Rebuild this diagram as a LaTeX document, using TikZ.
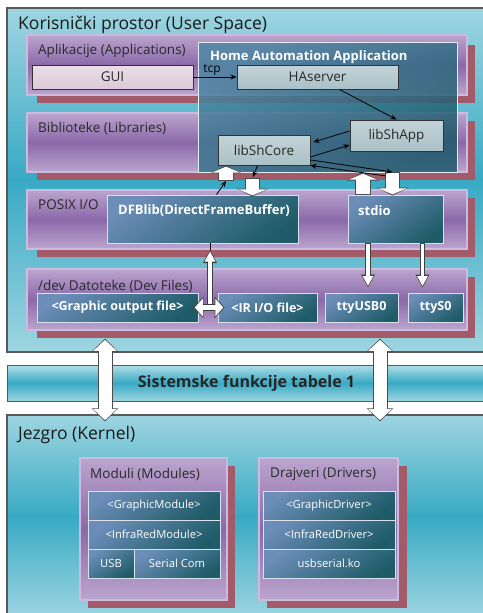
\documentclass[tikz,border=0pt]{standalone}
\usepackage{fontspec}
\setmainfont{Open Sans}
\usepackage{tikz}
\usetikzlibrary{positioning,arrows.meta,calc}
\definecolor{tealLight}{HTML}{9ED5E1}
\definecolor{tealDark}{HTML}{38AAC4}
\definecolor{layerLight}{HTML}{BBA5CE}
\definecolor{layerDark}{HTML}{8B69A9}
\definecolor{layerEdge}{HTML}{CDBADF}
\definecolor{shadowRed}{HTML}{A35B6A}
\definecolor{haTop}{HTML}{4E87A4}
\definecolor{haBottom}{HTML}{1D5A6B}
\definecolor{boxBlue}{HTML}{6B8DB8}
\definecolor{boxTeal}{HTML}{1F5C68}
\definecolor{greyBox}{HTML}{A9C1C7}
\definecolor{guiPink}{HTML}{DCC9D9}
\definecolor{labelGrey}{HTML}{2A2A2A}

\tikzset{
  bigpanel/.style={draw=black!65, line width=1.3pt, top color=tealLight, bottom color=tealLight, middle color=tealDark, inner sep=0pt},
  layerbox/.style={draw=layerEdge, line width=1.2pt, top color=layerLight, bottom color=layerLight, middle color=layerDark},
  titletext/.style={font=\fontsize{17.5}{20}\selectfont, text=black!90, anchor=west, inner sep=0pt},
  layerlabel/.style={font=\fontsize{13.5}{16}\selectfont, text=labelGrey, anchor=west, inner sep=0pt},
  haframe/.style={draw=white!85!haTop, line width=1pt, top color=haTop, bottom color=haBottom, shading angle=30, fill opacity=0.85, inner sep=0pt},
  hatitle/.style={font=\bfseries\fontsize{13}{16}\selectfont, text=white, anchor=west, inner sep=0pt},
  greybox/.style={draw=black!80, line width=0.9pt, top color=greyBox!70!white, bottom color=greyBox, font=\fontsize{13.5}{16}\selectfont, text=labelGrey, inner sep=0pt},
  guibox/.style={greybox, top color=guiPink!60!white, bottom color=guiPink},
  bluebox/.style={draw=white!75!boxBlue, line width=0.9pt, top color=boxBlue, bottom color=boxTeal, shading angle=35, text=white, inner sep=0pt},
  filebox/.style={bluebox, minimum height=29pt, font=\bfseries\fontsize{12.5}{15}\selectfont},
  rowbox/.style={bluebox, minimum height=29pt, font=\fontsize{11.2}{13}\selectfont},
  boxtext/.style={font=\bfseries\fontsize{13}{16}\selectfont, text=white, anchor=west, inner sep=0pt},
  sysbar/.style={draw=black!65, line width=1pt, top color=tealLight!80!white, bottom color=tealLight, middle color=tealDark, font=\bfseries\fontsize{16}{18}\selectfont, text=black!85, inner sep=0pt},
  thinarrow/.style={line width=0.8pt, -{Stealth[length=6pt,width=5pt]}},
  blockarrow/.style={line width=15.5pt, draw=black!70, -{Triangle[width=32pt,length=8pt]},
    postaction={draw=white, line width=13.5pt, -{Triangle[width=28pt,length=6pt]}, shorten >=1.2pt, shorten <=0.8pt}},
  thinhollow/.style={line width=5.5pt, draw=black!75, -{Triangle[width=13pt,length=13pt]},
    postaction={draw=white, line width=3.8pt, -{Triangle[width=10pt,length=10pt]}, shorten >=1.5pt, shorten <=0.8pt}},
  thindouble/.style={line width=7.5pt, draw=black!75, {Triangle[width=21pt,length=10pt]}-{Triangle[width=21pt,length=10pt]},
    postaction={draw=white, line width=5.8pt, {Triangle[width=17.5pt,length=8pt]}-{Triangle[width=17.5pt,length=8pt]}, shorten >=1.3pt, shorten <=1.3pt}},
  bighollow/.style={line width=15pt, draw=black!70, {Triangle[width=26pt,length=13pt]}-{Triangle[width=26pt,length=13pt]},
    postaction={draw=white, line width=13pt, {Triangle[width=23pt,length=11pt]}-{Triangle[width=23pt,length=11pt]}, shorten >=1.2pt, shorten <=1.2pt}},
}

\begin{document}
\begin{tikzpicture}[x=1pt, y=-1pt]
  \useasboundingbox (0,0) rectangle (482,613);
  \fill[white] (0,0) rectangle (482,613);

  % User space
  \node[bigpanel, minimum width=479pt, minimum height=344pt] (userspace) at (246.5,180) {};
  \node[titletext] (usertitle) at (18,25) {Korisnički prostor (User Space)};

  % Layer: Aplikacije
  \fill[shadowRed] (37,45) rectangle (475,103);
  \shade[layerbox] (27,35) rectangle (467,95);
  \node[layerlabel] (applbl) at (38,51) {Aplikacije (Applications)};

  % Layer: Biblioteke
  \fill[shadowRed] (37,121) rectangle (475,180);
  \shade[layerbox] (27,113) rectangle (467,172);
  \node[layerlabel] (liblbl) at (38,128) {Biblioteke (Libraries)};

  % Layer: POSIX
  \fill[shadowRed] (37,198) rectangle (475,257);
  \shade[layerbox] (27,190) rectangle (467,249);
  \node[layerlabel] (posixlbl) at (38,205) {POSIX I/O};

  % Layer: dev
  \fill[shadowRed] (37,277) rectangle (475,338);
  \shade[layerbox] (27,269) rectangle (467,330);
  \node[layerlabel] (devlbl) at (38,286) {/dev Datoteke (Dev Files)};

  % Home automation
  \node[haframe, minimum width=259pt, minimum height=130pt] (haapp) at (327.5,107) {};
  \node[hatitle] (hatitle) at (210,57) {Home Automation Application};
  \node[guibox, minimum width=161pt, minimum height=24pt] (gui) at (112.5,77) {GUI};
  \node[greybox, minimum width=161pt, minimum height=24pt] (haserver) at (317.5,77) {HAserver};
  \node[greybox, minimum width=93pt, minimum height=31pt] (libshapp) at (396.5,135.5) {libShApp};
  \node[greybox, minimum width=92pt, minimum height=30pt] (libshcore) at (264,150) {libShCore};

  % POSIX boxes
  \node[bluebox, minimum width=191pt, minimum height=48pt] (dfb) at (202.5,219) {};
  \node[boxtext] (dfbtext) at (118,211) {DFBlib(DirectFrameBuffer)};
  \node[bluebox, minimum width=95pt, minimum height=48pt] (stdio) at (395.5,219) {};
  \node[boxtext] (stdiotext) at (358,211) {stdio};

  % Dev files
  \node[filebox, minimum width=161pt] (gfxfile) at (117.5,307.5) {<Graphic output file>};
  \node[filebox, minimum width=99pt] (irfile) at (267.5,307.5) {<IR I/O file>};
  \node[filebox, minimum width=73pt] (ttyusb) at (361.5,307.5) {ttyUSB0};
  \node[filebox, minimum width=55pt] (ttys) at (435.5,307.5) {ttyS0};

  % Arrow points
  \coordinate (upLfoot) at (226,181);
  \coordinate (dnLhead) at (252.5,178);
  \coordinate (upRx) at (363,0);
  \coordinate (dnRtop) at (392.5,172);
  \coordinate (stdioin) at (386,176);
  \coordinate (usbx) at (368,0);
  \coordinate (s0x) at (422.5,0);
  \coordinate (tjoin) at (210,307);
  \coordinate (tjtip) at (210,250);
  \coordinate (bigLx) at (105,0);
  \coordinate (bigRx) at (380,0);

  % Arrows in user space
  \draw[thinarrow] (gui) -- node[pos=0.43, above, inner sep=1pt, font=\fontsize{12}{14}\selectfont] (tcplbl) {tcp} (haserver);
  \draw[thinarrow] ([xshift=22pt]haserver.south) -- (libshapp.north);
  \draw[thinarrow, shorten >=3pt] ([yshift=4.5pt]libshapp.west) -- ([yshift=7pt]libshcore.east);
  \draw[thinarrow] ([yshift=-7pt]libshcore.east) -- ([yshift=-9.5pt]libshapp.west);
  \draw[blockarrow] (upLfoot) -- (libshcore.south -| upLfoot);
  \draw[blockarrow] (dnLhead) -- ([yshift=-2pt]dfb.north -| dnLhead);
  \draw[blockarrow] (stdio.north -| upRx) -- (haapp.south -| upRx);
  \draw[blockarrow] (dnRtop) -- ([yshift=-1pt]stdio.north -| dnRtop);
  \draw[thinarrow, shorten >=1pt] ([xshift=40pt]libshcore.south west) -- (dnLhead);
  \draw[thinarrow] ([xshift=110pt]dfb.north west) -- (upLfoot);
  \draw[thinarrow] ([yshift=-10pt]libshcore.east) -- (dnRtop);
  \draw[thinarrow] (stdioin) -- (libshcore.south east);
  \draw[thinhollow] (stdio.south -| usbx) -- ([yshift=5pt]ttyusb.north -| usbx);
  \draw[thinhollow] (stdio.south -| s0x) -- ([yshift=5pt]ttys.north -| s0x);
  \draw[thinhollow] (tjoin) -- (tjtip);
  \draw[line width=0.8pt] (tjtip) -- (dfb.south -| tjoin);
  \draw[thindouble] ([xshift=-5pt]gfxfile.east) -- ([xshift=7pt]irfile.west);

  % System call table
  \node[sysbar, minimum width=479pt, minimum height=36pt] (syscall) at (246.5,383) {Sistemske funkcije tabele 1};

  % Kernel
  \node[bigpanel, minimum width=479pt, minimum height=203pt] (kernel) at (246.5,516.5) {};
  \node[titletext] (kerneltitle) at (18,435) {Jezgro (Kernel)};

  % Moduli
  \fill[shadowRed] (88,466) rectangle (235,608);
  \shade[layerbox] (80,458) rectangle (227,600);
  \node[layerlabel] (modlbl) at (90,474) {Moduli (Modules)};
  \node[rowbox, minimum width=132pt] (gmod) at (154,505.5) {<GraphicModule>};
  \node[rowbox, minimum width=132pt] (irmod) at (154,534.5) {<InfraRedModule>};
  \node[rowbox, minimum width=46pt] (usbmod) at (111,563.5) {USB};
  \node[rowbox, minimum width=86pt] (sermod) at (177,563.5) {Serial Com};

  % Drajveri
  \fill[shadowRed] (267,466) rectangle (407,608);
  \shade[layerbox] (259,458) rectangle (398,600);
  \node[layerlabel] (drvlbl) at (270,474) {Drajveri (Drivers)};
  \node[rowbox, minimum width=132pt] (gdrv) at (329,505.5) {<GraphicDriver>};
  \node[rowbox, minimum width=132pt] (irdrv) at (329,534.5) {<InfraRedDriver>};
  \node[rowbox, minimum width=132pt] (usbdrv) at (329,563.5) {usbserial.ko};

  % User space <-> kernel
  \draw[bighollow] ([yshift=14pt]userspace.south -| bigLx) -- ([yshift=-7pt]kernel.north -| bigLx);
  \draw[bighollow] ([yshift=14pt]userspace.south -| bigRx) -- ([yshift=-7pt]kernel.north -| bigRx);
\end{tikzpicture}
\end{document}
